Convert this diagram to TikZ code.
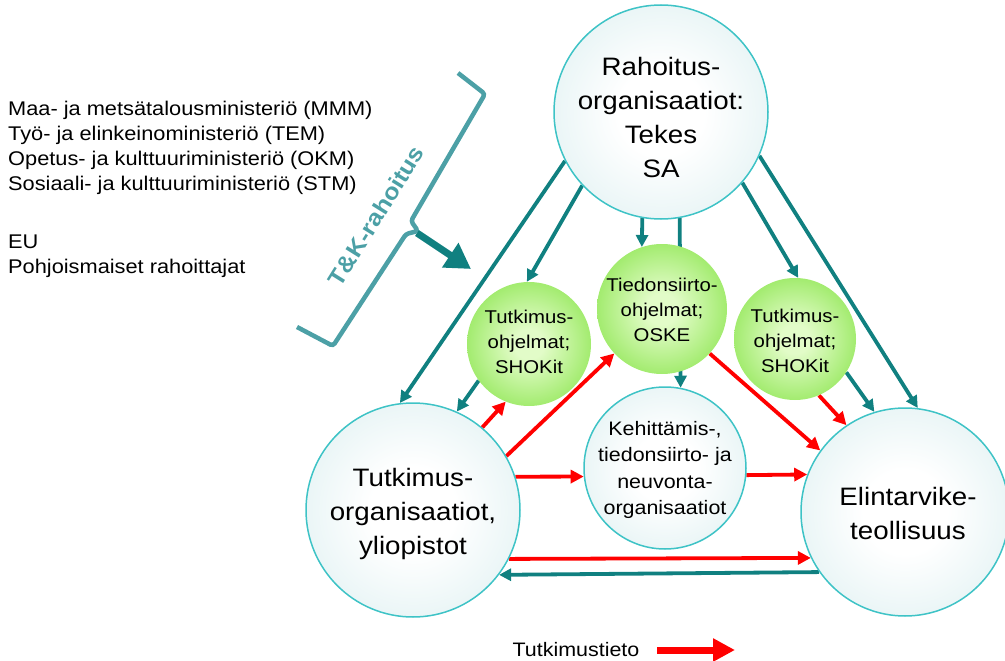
\documentclass[tikz,border=0pt]{standalone}
\usepackage{fontspec}
\setmainfont{Liberation Sans}[FakeStretch=1.1]
\usepackage{tikz}
\usetikzlibrary{arrows.meta, backgrounds, positioning}

\definecolor{tealarrow}{RGB}{16,128,128}
\definecolor{tealbrace}{RGB}{76,160,166}
\definecolor{circborder}{RGB}{62,195,198}
\definecolor{circfill}{RGB}{200,230,232}
\definecolor{greenfill}{RGB}{112,222,40}
\definecolor{greencore}{RGB}{226,252,200}
\definecolor{redarrow}{RGB}{255,0,0}

\pgfdeclareradialshading{bigshade}{\pgfpoint{0bp}{0bp}}{color(0bp)=(white); color(10bp)=(white); color(50bp)=(circfill)}
\pgfdeclareradialshading{greenshade}{\pgfpoint{0bp}{0bp}}{color(0bp)=(greencore); color(6bp)=(greencore); color(30bp)=(greenfill!70!greencore); color(50bp)=(greenfill)}

\begin{document}
\begin{tikzpicture}[
    x=1pt, y=-1pt,
    bigcirc/.style={circle, draw=circborder, line width=1.5pt, shading=bigshade, inner sep=0pt},
    greencirc/.style={circle, shading=greenshade, inner sep=0pt},
    bigtext/.style={align=center, inner sep=0pt, font=\fontsize{25.2}{34}\selectfont},
    greentext/.style={align=center, inner sep=0pt, font=\fontsize{18.5}{25}\selectfont},
    midtext/.style={align=center, inner sep=0pt, font=\fontsize{19.5}{26.5}\selectfont},
    infotext/.style={align=left, inner sep=0pt, font=\fontsize{19.8}{25}\selectfont},
    fundarrow/.style={draw=tealarrow, line width=3.8pt, -{Triangle[length=12pt, width=12pt]}},
    tietoarrow/.style={draw=redarrow, line width=3.8pt, -{Triangle[length=13pt, width=13pt]}},
    legendarrow/.style={draw=redarrow, line width=7pt, -{Triangle[length=22pt, width=22pt]}},
    tkarrow/.style={draw=tealarrow, line width=7pt, -{Triangle[length=25pt, width=28pt]}}
]
    \useasboundingbox (0,0) rectangle (1005,661);

    % funding bodies on the left
    \node [infotext, anchor=north west] (ministeriot) at (8,100.5) {Maa- ja metsätalousministeriö (MMM)\\Työ- ja elinkeinoministeriö (TEM)\\Opetus- ja kulttuuriministeriö (OKM)\\Sosiaali- ja kulttuuriministeriö (STM)};
    \node [infotext, anchor=north west] (muut) at (8,234.5) {EU\\Pohjoismaiset rahoittajat};

    % bracket with its label and arrow
    \draw [tealbrace, line width=4.5pt, rounded corners=3pt] (458,73) -- (485,94) -- (411,221) -- (418,231) -- (406,234) -- (333,346) -- (297,327);
    \node [rotate=58, text=tealbrace, inner sep=0pt, font=\bfseries\fontsize{23}{28}\selectfont] (tkteksti) at (376,216) {T\&K-rahoitus};
    \coordinate (tkkarki) at (417,233);
    \coordinate (tkpaa) at (471,269);
    \draw [tkarrow] (tkkarki) -- (tkpaa);

    % circles
    \node [bigcirc, minimum size=214pt] (rahoitus) at (661,112) {};
    \node [bigcirc, minimum size=214pt] (tutkorg) at (413,510) {};
    \node [bigcirc, minimum size=208pt] (elintarvike) at (905,512) {};
    \node [bigcirc, minimum size=162pt] (kehitys) at (665,468) {};
    \node [greencirc, minimum size=124pt] (ohjelmaL) at (529,344) {};
    \node [greencirc, minimum size=130pt] (ohjelmaM) at (662,309) {};
    \node [greencirc, minimum size=122pt] (ohjelmaR) at (795,339) {};

    \node [bigtext] (rahoitusteksti) at (661,117) {Rahoitus-\\organisaatiot:\\Tekes\\SA};
    \node [bigtext] (tutkorgteksti) at (413,514) {Tutkimus-\\organisaatiot,\\yliopistot};
    \node [bigtext] (elintarviketeksti) at (908,513) {Elintarvike-\\teollisuus};
    \node [midtext] (kehitysteksti) at (665,470) {Kehittämis-,\\tiedonsiirto- ja\\neuvonta-\\organisaatiot};
    \node [greentext] (ohjelmaLteksti) at (529,342) {Tutkimus-\\ohjelmat;\\SHOKit};
    \node [greentext] (ohjelmaMteksti) at (662,310) {Tiedonsiirto-\\ohjelmat;\\OSKE};
    \node [greentext] (ohjelmaRteksti) at (795,341) {Tutkimus-\\ohjelmat;\\SHOKit};

    % connectors
    \begin{scope}[on background layer]
        \draw [fundarrow] (rahoitus.207) -- (tutkorg.97);
        \draw [fundarrow] (rahoitus.223) -- (ohjelmaL.92);
        \draw [fundarrow] (rahoitus.260) -- (ohjelmaM.108);
        \draw [fundarrow] (rahoitus.280.2) -- (kehitys.79.3);
        \draw [fundarrow] (rahoitus.319.5) -- (ohjelmaR.87);
        \draw [fundarrow] (rahoitus.336) -- (elintarvike.83);
        \draw [fundarrow] (ohjelmaL.216) -- (tutkorg.66.6);
        \draw [fundarrow] (ohjelmaR.327) -- (elintarvike.107.4);
        \draw [fundarrow] (elintarvike.215.9) -- (tutkorg.323.9);

        \draw [tietoarrow] (tutkorg.50) -- (ohjelmaL.248.4);
        \draw [tietoarrow] (tutkorg.30) -- (ohjelmaM.223.7);
        \draw [tietoarrow] (tutkorg.18) -- (kehitys.186.4);
        \draw [tietoarrow] (kehitys.355) -- (elintarvike.159.2);
        \draw [tietoarrow] (ohjelmaM.317.5) -- (elintarvike.144.5);
        \draw [tietoarrow] (ohjelmaR.293.3) -- (elintarvike.124);
        \draw [tietoarrow] (tutkorg.333.4) -- (elintarvike.206.3);
    \end{scope}

    % legend
    \node [font=\fontsize{19.5}{24}\selectfont, inner sep=0pt] (selite) at (576,650) {Tutkimustieto};
    \coordinate (seliteA) at (657,650);
    \coordinate (seliteB) at (735,650);
    \draw [legendarrow] (seliteA) -- (seliteB);
\end{tikzpicture}
\end{document}
